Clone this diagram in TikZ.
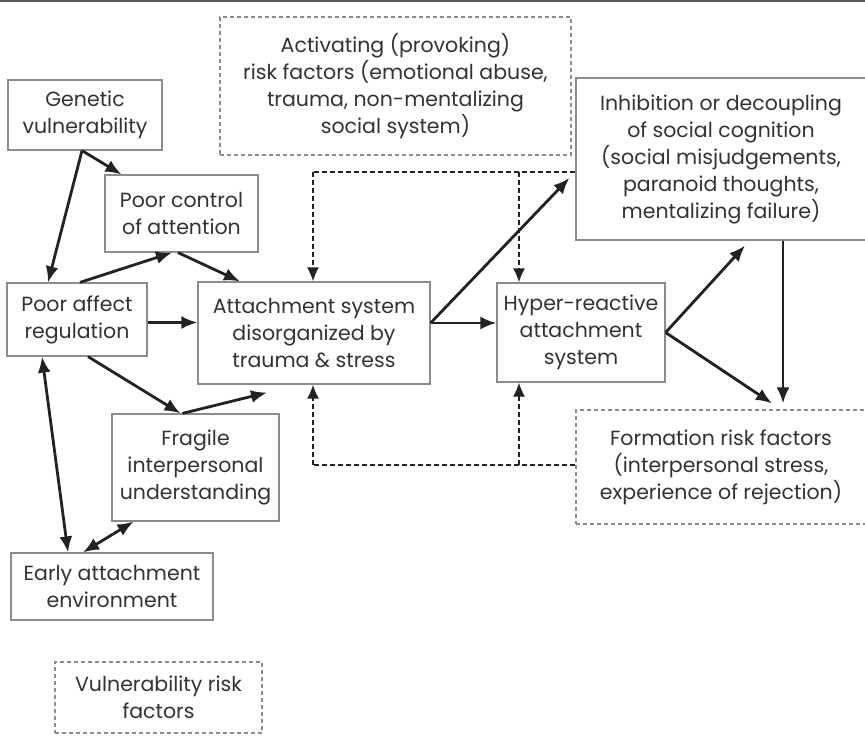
\documentclass[tikz,border=0pt]{standalone}
\usepackage{fontspec}
\setmainfont{Poppins}
\usetikzlibrary{arrows.meta,calc}
\definecolor{boxline}{HTML}{8C8C8C}
\definecolor{inkgray}{HTML}{333333}
\definecolor{arrowink}{HTML}{222222}
\definecolor{rulegray}{HTML}{555555}
\begin{document}
\begin{tikzpicture}[x=1pt,y=-1pt,
  every node/.style={font=\fontsize{20.5}{27}\selectfont, text=inkgray, align=center, inner sep=0pt},
  solidbox/.style={draw=boxline, line width=1.2pt},
  riskbox/.style={draw=boxline, line width=1.2pt, dash pattern=on 4pt off 3pt},
  link/.style={draw=arrowink, line width=2.8pt, -{Latex[length=16pt,width=13pt]}},
  both/.style={draw=arrowink, line width=2.8pt, {Latex[length=16pt,width=13pt]}-{Latex[length=16pt,width=13pt]}},
  feedline/.style={draw=arrowink, line width=1.8pt, dash pattern=on 5pt off 3pt},
  feed/.style={feedline, -{Latex[length=14pt,width=12pt]}}]
\useasboundingbox (0,0) rectangle (865,738);
\clip (0,0) rectangle (865,738);
\fill[white] (0,0) rectangle (865,738);
\draw[rulegray, line width=2.5pt] (0,1) -- (865,1);

% vulnerability factors
\node[solidbox, minimum width=154pt, minimum height=70pt] (gen) at (85,115) {Genetic\\vulnerability};
\node[solidbox, minimum width=153pt, minimum height=77pt] (ctrl) at (181.5,213.5) {Poor control\\of attention};
\node[solidbox, minimum width=140pt, minimum height=73pt] (aff) at (77,319.5) {Poor affect\\regulation};
\node[solidbox, minimum width=167pt, minimum height=107pt] (frag) at (195.5,467.5) {Fragile\\interpersonal\\understanding};
\node[solidbox, minimum width=202pt, minimum height=67pt] (early) at (112,586.5) {Early attachment\\environment};

% attachment system
\node[solidbox, minimum width=232pt, minimum height=102pt] (att) at (314,333) {Attachment system\\disorganized by\\trauma \& stress};
\node[solidbox, minimum width=168pt, minimum height=99pt] (hyp) at (581,332.5) {Hyper-reactive\\attachment\\system};
\node[solidbox, minimum width=290pt, minimum height=162pt] (inh) at (721,159) {Inhibition or decoupling\\of social cognition\\(social misjudgements,\\paranoid thoughts,\\mentalizing failure)};

% risk factor boxes
\node[riskbox, minimum width=351pt, minimum height=138pt] (act) at (395.5,86) {Activating (provoking)\\risk factors (emotional abuse,\\trauma, non-mentalizing\\social system)};
\node[riskbox, minimum width=290pt, minimum height=114pt] (form) at (721,467) {Formation risk factors\\(interpersonal stress,\\experience of rejection)};
\node[riskbox, minimum width=207pt, minimum height=71pt] (vul) at (158.5,697.5) {Vulnerability risk\\factors};

% connector end points
\coordinate (affout) at ([yshift=-3pt]aff.east);
\coordinate (attout) at ([yshift=10pt]att.east);

% solid influences
\draw[link] ([xshift=-3pt]gen.south) -- ([xshift=-29pt]aff.north);
\draw[link] ([xshift=-3pt]gen.south) -- ([xshift=17pt]ctrl.north west);
\draw[link] ([xshift=3pt]aff.north) -- ([xshift=-9.5pt]ctrl.south);
\draw[link] ([xshift=-3.5pt]ctrl.south) -- ([xshift=-74pt]att.north);
\draw[link] (affout) -- (att.west |- affout);
\draw[link] ([xshift=11pt]aff.south) -- ([xshift=-15pt]frag.north);
\draw[link] ([xshift=-13pt]frag.north) -- ($(att.south)+(-47,8)$);
\draw[both] ([xshift=-35pt]aff.south) -- ([xshift=-44pt]early.north);
\draw[both] ([xshift=-62pt]frag.south) -- ([xshift=-29pt]early.north);
\draw[link] (attout) -- (hyp.west |- attout);
\draw[link] (attout) -- ($(inh.west)+(-6,19)$);
\draw[link] (hyp.east) -- ($(inh.south)+(24,5)$);
\draw[link] (hyp.east) -- ($(form.north)+(51,-6)$);
\draw[link] ($(inh.south)+(62,0)$) -- ($(form.north)+(62,-6)$);

% dashed feedback from cognition and formation factors
\coordinate (topL) at (313,172);
\coordinate (topR) at (519,172);
\coordinate (botL) at (313,465);
\coordinate (botR) at (519,465);
\draw[feedline] (inh.west |- topL) -- (topL);
\draw[feed] (topL) -- (topL |- att.north);
\draw[feed] (topR) -- (topR |- hyp.north);
\draw[feedline] (form.west |- botL) -- (botL);
\draw[feed] (botL) -- (botL |- att.south);
\draw[feed] (botR) -- (botR |- hyp.south);
\end{tikzpicture}
\end{document}
